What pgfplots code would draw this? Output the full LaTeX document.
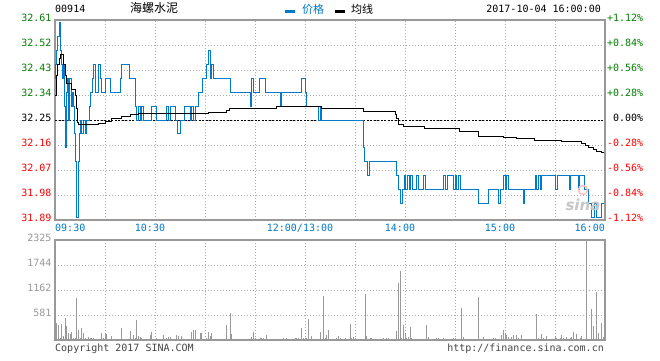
\documentclass[border=0pt]{standalone}
\usepackage{pgfplots}
\pgfplotsset{compat=1.18}
\usepackage{fontspec}
\setmainfont{DejaVu Sans}
\newfontfamily\mono{DejaVu Sans Mono}
\newfontfamily\cjk{Noto Sans CJK SC}
\definecolor{sblue}{RGB}{0,122,204}
\definecolor{sgreen}{RGB}{0,128,0}
\definecolor{sred}{RGB}{255,0,0}
\definecolor{sgray}{RGB}{153,153,153}
\definecolor{sgrid}{RGB}{170,170,170}
\definecolor{stext}{RGB}{68,68,68}
\newcommand\tf{\mono\fontsize{10bp}{12bp}\selectfont}
\begin{document}
\begin{tikzpicture}[x=1bp,y=1bp]
\useasboundingbox (0,0) rectangle (660,360);
\fill[white] (0,0) rectangle (660,360);

% ---------------- price panel ----------------
\begin{axis}[
  at={(55bp,140bp)}, anchor=south west,
  scale only axis, width=550bp, height=200bp,
  xmin=0, xmax=330, ymin=31.89, ymax=32.61,
  enlargelimits=false,
  xtick={0,30,...,330}, xticklabels={},
  ytick={31.89,31.98,32.07,32.16,32.25,32.34,32.43,32.52,32.61},
  yticklabels={\textcolor{sred}{31.89},\textcolor{sred}{31.98},\textcolor{sred}{32.07},\textcolor{sred}{32.16},32.25,\textcolor{sgreen}{32.34},\textcolor{sgreen}{32.43},\textcolor{sgreen}{32.52},\textcolor{sgreen}{32.61}},
  yticklabel style={font=\tf, yshift=2.5bp},
  major tick length=0pt,
  grid=major,
  major grid style={draw=sgrid, line width=0.8bp, dash pattern=on 1bp off 2bp},
  axis line style={draw=sgray, line width=1.2bp},
]
\addplot[black, line width=0.9bp, dash pattern=on 2bp off 1.5bp] coordinates {(0,32.25) (330,32.25)};
\addplot[const plot, sblue, line width=1bp] coordinates {
(0,32.40)(0.5,32.45)(1,32.50)(1.6,32.55)(2.4,32.60)(3,32.55)(3.4,32.50)(3.8,32.45)(4.4,32.40)(5,32.45)(5.6,32.30)(6,32.15)(6.6,32.35)(7.2,32.40)(8,32.25)(8.8,32.40)(9.6,32.30)(10.4,32.35)(11,32.30)(11.8,32.20)(12.4,32.10)(13,31.90)(13.8,32.10)(14.4,32.20)(15,32.25)(16,32.20)(17,32.25)(18,32.20)(19,32.25)(20.4,32.30)(21.4,32.35)(22.4,32.40)(23,32.45)(24,32.35)(26,32.45)(27,32.40)(28,32.35)(30,32.40)(33,32.35)(39,32.40)(40,32.45)(44.4,32.40)(48,32.30)(49,32.25)(50,32.30)(51,32.25)(52,32.30)(53,32.25)(58,32.30)(61,32.25)(67,32.30)(68,32.25)(69,32.30)(72,32.25)(73.2,32.20)(75.2,32.25)(77.6,32.30)(81,32.25)(82,32.30)(83,32.25)(84,32.30)(86,32.35)(88.2,32.40)(91,32.45)(92,32.50)(93,32.40)(94,32.45)(95,32.40)(105.2,32.35)(117,32.30)(118,32.40)(119,32.35)(122.6,32.40)(126,32.35)(135,32.30)(136,32.35)(148,32.40)(150,32.35)(151,32.30)(158,32.25)(159,32.30)(160,32.25)(184.8,32.15)(185.8,32.10)(187.6,32.05)(188.8,32.10)(204.8,32.05)(206,32.00)(207.5,31.95)(208.5,32.00)(209.5,32.05)(210.5,32.00)(211.5,32.05)(212.5,32.00)(213.5,32.05)(214.5,32.00)(217,32.05)(218.2,32.00)(221,32.05)(222.2,32.00)(233,32.05)(234.5,32.00)(235.5,32.05)(239,32.00)(240,32.05)(241,32.00)(242,32.05)(243,32.00)(253.8,31.95)(260.2,32.00)(265.8,31.95)(267.4,32.00)(269,32.05)(270,32.00)(271,32.05)(272,32.00)(280.8,31.95)(281.8,32.00)(288,32.05)(289,32.00)(290,32.05)(291,32.00)(292,32.05)(300.2,32.00)(301.2,32.05)(308.5,32.00)(309.5,32.05)(313.8,32.00)(314.8,32.05)(317.4,32.00)(319.8,31.95)(321.8,31.90)(323.4,31.95)(324.8,31.90)(327.8,31.95)(330,31.95)};
\addplot[const plot, black, line width=1bp] coordinates {
(0,32.34)(0.8,32.41)(1.6,32.45)(2.6,32.47)(3.4,32.485)(5.2,32.45)(6,32.41)(7,32.38)(10,32.36)(12.4,32.34)(13,32.29)(13.6,32.24)(14,32.235)(26,32.237)(30,32.245)(34,32.254)(40,32.262)(45,32.27)(50,32.275)(92,32.278)(103,32.284)(104.6,32.29)(118.6,32.293)(133,32.298)(160,32.293)(176.4,32.29)(185.2,32.28)(204,32.27)(205,32.255)(206,32.235)(207,32.233)(209,32.226)(212.4,32.225)(221.8,32.218)(242.8,32.207)(253.8,32.192)(268.8,32.188)(276.8,32.185)(287.8,32.178)(303.8,32.173)(316,32.167)(318,32.158)(320,32.152)(322.8,32.143)(324.8,32.137)(328,32.134)(330,32.134)};
\end{axis}

% right percentage labels
\begin{axis}[
  at={(55bp,140bp)}, anchor=south west,
  scale only axis, width=550bp, height=200bp,
  xmin=0, xmax=330, ymin=31.89, ymax=32.61,
  enlargelimits=false,
  axis x line=none, axis y line*=right,
  y axis line style={draw=sgray, line width=1.2bp},
  ytick={31.89,31.98,32.07,32.16,32.25,32.34,32.43,32.52,32.61},
  yticklabels={\textcolor{sred}{-1.12\%},\textcolor{sred}{-0.84\%},\textcolor{sred}{-0.56\%},\textcolor{sred}{-0.28\%},\phantom{+}0.00\%,\textcolor{sgreen}{+0.28\%},\textcolor{sgreen}{+0.56\%},\textcolor{sgreen}{+0.84\%},\textcolor{sgreen}{+1.12\%}},
  yticklabel style={font=\tf, yshift=2.5bp, xshift=-1.5bp},
  major tick length=0pt,
]
\end{axis}

% ---------------- volume panel ----------------
\begin{axis}[
  at={(55bp,20bp)}, anchor=south west,
  scale only axis, width=550bp, height=100bp,
  xmin=0, xmax=330, ymin=0, ymax=2325,
  enlargelimits=false,
  xtick={0,30,...,330}, xticklabels={},
  ytick={581,1162,1744,2325},
  yticklabels={581,1162,1744,2325},
  yticklabel style={font=\tf, text=sgray, yshift=2.5bp},
  major tick length=0pt,
  grid=major,
  major grid style={draw=sgrid, line width=0.8bp, dash pattern=on 1bp off 2bp},
  axis line style={draw=sgray, line width=1.2bp},
]
\addplot[ycomb, draw=sgray, line width=1bp] coordinates {
(1,387)(2,349)(3,40)(4,372)(5,95)(6,512)(7,333)(8,155)(9,140)(10,178)(11,40)(12,40)(13,984)(14,233)(15,40)(16,271)(17,155)(18,54)(20,78)(21,54)(22,39)(23,39)(24,23)(26,23)(28,163)(29,39)(30,132)(31,132)(34,93)(35,23)(40,271)(45,209)(47,116)(48,54)(49,465)(50,93)(51,78)(52,54)(53,23)(57,116)(58,178)(61,39)(65,116)(67,54)(68,78)(69,70)(70,23)(73,116)(74,100)(76,93)(78,23)(79,23)(81,23)(82,178)(83,225)(84,225)(87,163)(88,163)(89,23)(91,39)(92,186)(93,85)(94,163)(96,23)(99,23)(100,23)(102,23)(103,349)(105,628)(106,140)(110,23)(113,23)(114,23)(115,23)(118,70)(119,178)(120,39)(123,39)(124,54)(125,39)(127,116)(130,23)(132,23)(133,23)(134,23)(136,23)(137,54)(138,23)(139,39)(141,23)(142,23)(144,54)(145,54)(146,39)(148,287)(149,39)(150,54)(151,39)(152,488)(154,100)(155,23)(159,186)(161,1015)(162,39)(163,116)(164,233)(167,23)(169,39)(170,93)(171,54)(174,47)(177,372)(178,54)(179,62)(180,54)(184,23)(186,1070)(187,100)(188,23)(189,39)(190,54)(196,23)(197,47)(199,54)(200,54)(203,23)(205,202)(206,1325)(207,1612)(208,39)(209,349)(210,163)(211,54)(212,70)(213,302)(214,39)(215,23)(216,23)(218,23)(219,23)(221,23)(223,349)(224,70)(227,23)(229,54)(230,47)(233,47)(236,23)(239,47)(240,39)(242,23)(244,744)(245,78)(247,23)(251,23)(252,23)(254,1000)(257,70)(259,23)(260,23)(263,47)(264,39)(266,31)(268,116)(269,233)(270,155)(271,116)(272,70)(274,62)(275,116)(277,116)(278,47)(280,116)(281,23)(283,23)(284,23)(286,23)(289,605)(290,47)(292,140)(293,47)(295,93)(297,23)(298,23)(300,93)(301,54)(302,23)(303,54)(304,116)(305,39)(307,70)(309,54)(310,70)(311,186)(313,140)(315,47)(316,93)(319,2325)(322,721)(323,326)(325,1116)(326,163)(328,395)(329,70)(330,186)};
\end{axis}

% ---------------- time labels ----------------
\begin{scope}[every node/.style={inner sep=0pt, text=sblue, font=\tf}]
\node[anchor=north west] at (55,136) {09:30};
\node[anchor=north] at (150,136) {10:30};
\node[anchor=north] at (300,136) {12:00/13:00};
\node[anchor=north] at (400,136) {14:00};
\node[anchor=north] at (500,136) {15:00};
\node[anchor=north east] at (605,136) {16:00};
\end{scope}

% ---------------- header ----------------
\node[anchor=base west, inner sep=0pt, font=\tf] at (55,347.3) {00914};
\node[anchor=base west, inner sep=0pt, font=\cjk\fontsize{12bp}{14bp}\selectfont] at (130,348) {海螺水泥};
\draw[sblue, line width=2.6bp] (285,348.7) -- (295,348.7);
\node[anchor=base west, inner sep=0pt, text=sblue, font=\cjk\fontsize{11bp}{13bp}\selectfont] at (302,347) {价格};
\draw[black, line width=2.6bp] (335,348.7) -- (345,348.7);
\node[anchor=base west, inner sep=0pt, font=\cjk\fontsize{11bp}{13bp}\selectfont] at (351,347) {均线};
\node[anchor=base east, inner sep=0pt, font=\tf] at (601,347.3) {2017-10-04 16:00:00};

% ---------------- footer ----------------
\node[anchor=base west, inner sep=0pt, font=\tf, text=stext] at (55,8.5) {Copyright 2017 SINA.COM};
\node[anchor=base east, inner sep=0pt, font=\tf, text=stext] at (604,8.5) {http://finance.sina.com.cn};

% watermark
\draw[red!25, line width=1.5bp] (583,170) circle (4.5);
\node[text=gray!45, font=\bfseries\itshape\fontsize{15bp}{16bp}\selectfont, inner sep=0pt] at (583,155) {sina};
\end{tikzpicture}
\end{document}
